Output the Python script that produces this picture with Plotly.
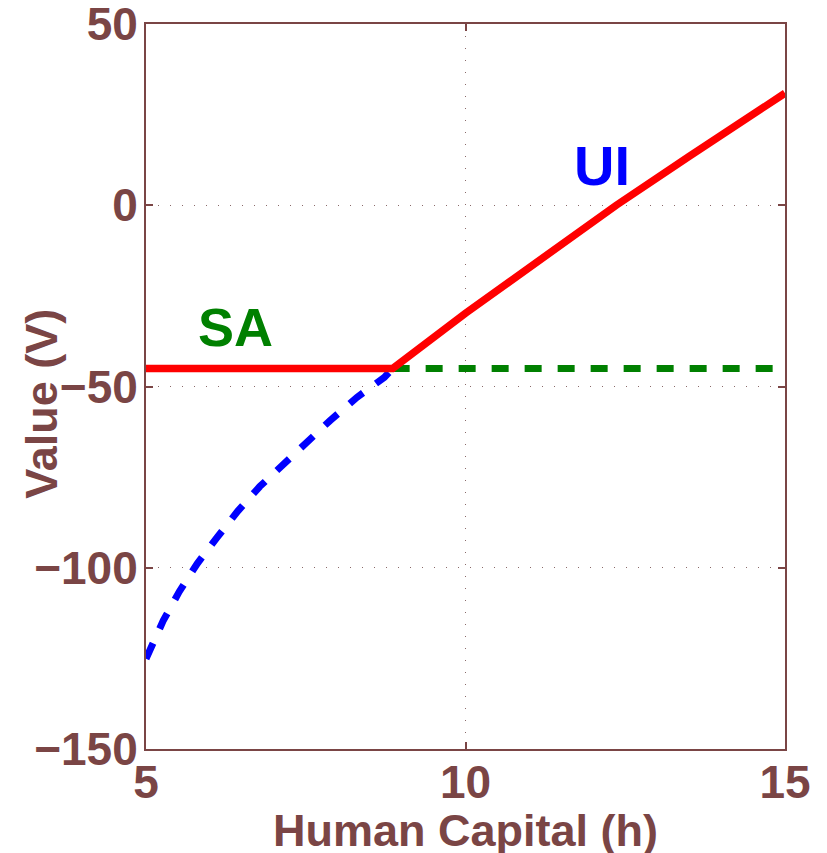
import plotly.graph_objects as go

# Data
h_sa = [5.0, 8.86]
v_sa = [-45.0, -45.0]

h_ui = [8.86, 10.0, 11.0, 12.36, 13.5, 14.0, 15.0]
v_ui = [-45.0, -29.8, -17.0, 0.0, 13.5, 19.3, 30.9]

h_sa_dash = [8.86, 15.0]
v_sa_dash = [-45.0, -45.0]

h_ui_dash = [5.0, 5.06, 5.27, 5.52, 5.80, 6.11, 6.44, 6.78, 7.16, 7.53, 7.88, 8.30, 8.73, 8.86]
v_ui_dash = [-125.1, -122.9, -114.6, -106.6, -98.9, -91.7, -84.3, -77.6, -71.3, -64.9, -59.4, -53.0, -47.5, -45.0]

x_ticks = [5, 10, 15]
y_ticks = [-150, -100, -50, 0, 50]

AX = "#7a4545"
FONT = "Liberation Sans"

fig = go.Figure()
fig.add_trace(go.Scatter(x=h_ui_dash, y=v_ui_dash, mode="lines",
                         line=dict(color="#0000ff", width=7, dash="17px,16px"),
                         showlegend=False, hoverinfo="skip"))
fig.add_trace(go.Scatter(x=h_sa_dash, y=v_sa_dash, mode="lines",
                         line=dict(color="#008000", width=7, dash="17px,16px"),
                         showlegend=False, hoverinfo="skip"))
fig.add_trace(go.Scatter(x=h_sa + h_ui[1:], y=v_sa + v_ui[1:], mode="lines",
                         line=dict(color="#ff0000", width=7.5),
                         showlegend=False, hoverinfo="skip"))

axis_common = dict(
    showline=True, linecolor=AX, linewidth=2, mirror="ticks",
    ticks="inside", ticklen=7, tickwidth=1.5, tickcolor=AX,
    showgrid=True, gridcolor="#8a6a6a", gridwidth=1, griddash="1px,11px",
    zeroline=False, ticklabeloverflow="allow", automargin=False,
    tickfont=dict(family=FONT, size=46, color=AX, weight="bold"),
)

fig.update_xaxes(range=[5, 15], tickvals=x_ticks, ticklabelstandoff=-8, **axis_common)
fig.update_yaxes(range=[-150, 50], tickvals=y_ticks, ticklabelstandoff=-3, **axis_common)

fig.add_annotation(text="SA", x=6.4, y=-33.6, xref="x", yref="y", showarrow=False,
                   font=dict(family=FONT, size=54, color="#008000", weight="bold"))
fig.add_annotation(text="UI", x=12.13, y=11.0, xref="x", yref="y", showarrow=False,
                   font=dict(family=FONT, size=56, color="#0000ff", weight="bold"))

fig.add_annotation(text="Human Capital (h)", x=0.5, y=-0.113, xref="paper", yref="paper",
                   showarrow=False, xanchor="center", yanchor="middle",
                   font=dict(family=FONT, size=45, color=AX, weight="bold"))
fig.add_annotation(text="Value (V)", x=-0.163, y=0.476, xref="paper", yref="paper",
                   showarrow=False, xanchor="center", yanchor="middle", textangle=-90,
                   font=dict(family=FONT, size=45, color=AX, weight="bold"))

fig.update_layout(
    width=819, height=845, autosize=False,
    margin=dict(l=138, r=42, t=16, b=104),
    paper_bgcolor="white", plot_bgcolor="white",
)

fig.write_html("out.html")
